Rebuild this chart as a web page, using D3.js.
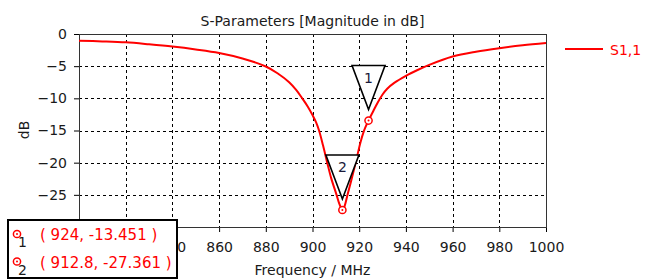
<!DOCTYPE html>
<html>
<head>
<meta charset="utf-8">
<script src="https://cdn.jsdelivr.net/npm/d3@7"></script>
<style>
  html, body { margin: 0; padding: 0; background: #fff; }
  text { font-family: "DejaVu Sans", Verdana, sans-serif; }
</style>
</head>
<body>
<div id="chart"></div>
<script>
// ---------------------------------- DATA ---------------------------------- //

let freq_mhz = [800, 810, 820, 830, 840, 850, 860, 870, 880, 885, 890, 893, 895.6, 898, 900, 901.5, 902.8,
  904.5, 906.3, 908, 910.3, 911.5, 912.8, 913.5, 915, 917, 919, 920.5, 922, 923, 924, 926, 928, 930, 932,
  935, 940, 945, 950, 960, 970, 980, 990, 1000];
let s11_db = [-1.05, -1.15, -1.3, -1.6, -1.95, -2.4, -2.95, -3.8, -5.05, -6.1, -7.5, -8.7, -10, -11.3, -12.6,
  -13.7, -15, -17.3, -20, -22.4, -25, -26.4, -27.36, -27.0, -25.0, -22.2, -19.2, -16.9, -15.1, -14.2,
  -13.451, -12.0, -10.6, -9.4, -8.5, -7.6, -6.5, -5.6, -4.8, -3.5, -2.75, -2.2, -1.75, -1.4];

let marker_ids = ['1', '2'];
let marker_freq = [924, 912.8];
let marker_db = [-13.451, -27.361];

let x_ticks = [800, 820, 840, 860, 880, 900, 920, 940, 960, 980, 1000];
let y_ticks = [-25, -20, -15, -10, -5, 0];

// ---------------------------------- SETTINGS ---------------------------------- //

let img_width = 656;
let img_height = 280;
let plot_left = 79;
let plot_right = 546;
let plot_top = 34;
let plot_bottom = 227;
let red_color = '#ff0000';
let text_color = '#1a1a1a';
let box_right = 177;

// ---------------------------------- CORE IMAGE ---------------------------------- //

let svg = d3.select('#chart')
  .append('svg')
  .attr('width', img_width)
  .attr('height', img_height);

let x = d3.scaleLinear().domain([800, 1000]).range([plot_left, plot_right]);
let y = d3.scaleLinear().domain([-30, 0]).range([plot_bottom, plot_top]);

// grid
let g_grid = svg.append('g')
  .attr('stroke', '#000')
  .attr('stroke-width', 1)
  .attr('stroke-dasharray', '3,3');
g_grid.selectAll('line.v')
  .data(x_ticks.slice(1, -1))
  .enter()
  .append('line')
  .attr('x1', d => Math.round(x(d)) + 0.5)
  .attr('x2', d => Math.round(x(d)) + 0.5)
  .attr('y1', plot_top)
  .attr('y2', plot_bottom);
g_grid.selectAll('line.h')
  .data(y_ticks.slice(0, -1))
  .enter()
  .append('line')
  .attr('x1', plot_left)
  .attr('x2', plot_right)
  .attr('y1', d => Math.round(y(d)) + 0.5)
  .attr('y2', d => Math.round(y(d)) + 0.5);

// axes (labels that sit fully under the marker table are left blank)
let x_fmt = d => (x(d) + 14 < box_right ? '' : d3.format('d')(d));
let x_axis = svg.append('g')
  .attr('transform', `translate(0,${plot_bottom})`)
  .call(d3.axisBottom(x).tickValues(x_ticks).tickFormat(x_fmt).tickSize(5).tickPadding(10).tickSizeOuter(0));
let y_axis = svg.append('g')
  .attr('transform', `translate(${plot_left},0)`)
  .call(d3.axisLeft(y).tickValues(y_ticks).tickFormat(d3.format('d')).tickSize(5).tickPadding(7).tickSizeOuter(0));
[x_axis, y_axis].forEach(function(a) {
  a.select('.domain').remove();
  a.selectAll('text').attr('fill', text_color).style('font-size', '14px').style('font-family', '"DejaVu Sans", sans-serif');
  a.selectAll('line').attr('stroke', '#000');
});

// frame
svg.append('rect')
  .attr('x', plot_left + 0.5)
  .attr('y', plot_top + 0.5)
  .attr('width', plot_right - plot_left)
  .attr('height', plot_bottom - plot_top)
  .attr('fill', 'none')
  .attr('stroke', '#333')
  .attr('stroke-width', 1);

// curve
let line = d3.line()
  .x((d, i) => x(freq_mhz[i]))
  .y(d => y(d))
  .curve(d3.curveCatmullRom.alpha(0.5));
svg.append('path')
  .datum(s11_db)
  .attr('d', line)
  .attr('fill', 'none')
  .attr('stroke', red_color)
  .attr('stroke-width', 2);

// ---------------------------------- MARKERS ---------------------------------- //

let tri_w = 33;
let tri_h = 44;
let tri_gap = 11;

let g_markers = svg.append('g');
marker_ids.forEach(function(id, i) {
  let px = x(marker_freq[i]);
  let py = y(marker_db[i]);
  let apex = py - tri_gap;
  g_markers.append('path')
    .attr('d', `M${px - tri_w / 2},${apex - tri_h}L${px + tri_w / 2},${apex - tri_h}L${px},${apex}Z`)
    .attr('fill', '#fff')
    .attr('stroke', '#000')
    .attr('stroke-width', 1.6);
  g_markers.append('text')
    .attr('x', px)
    .attr('y', apex - tri_h + 17)
    .attr('text-anchor', 'middle')
    .attr('fill', '#1a1a3a')
    .style('font-size', '14px')
    .text(id);
  g_markers.append('circle')
    .attr('cx', px).attr('cy', py).attr('r', 3.6)
    .attr('fill', '#fff').attr('stroke', red_color).attr('stroke-width', 1.5);
  g_markers.append('circle')
    .attr('cx', px).attr('cy', py).attr('r', 1)
    .attr('fill', red_color);
});

// ---------------------------------- TEXT ---------------------------------- //

svg.append('text')
  .attr('x', (plot_left + plot_right) / 2)
  .attr('y', 26)
  .attr('text-anchor', 'middle')
  .attr('fill', text_color)
  .style('font-size', '14px')
  .text('S-Parameters [Magnitude in dB]');

svg.append('text')
  .attr('transform', 'translate(29,130) rotate(-90)')
  .attr('text-anchor', 'middle')
  .attr('fill', text_color)
  .style('font-size', '14px')
  .text('dB');

svg.append('text')
  .attr('x', (plot_left + plot_right) / 2)
  .attr('y', 275)
  .attr('text-anchor', 'middle')
  .attr('fill', text_color)
  .style('font-size', '14px')
  .text('Frequency / MHz');

// legend
svg.append('line')
  .attr('x1', 565).attr('x2', 603)
  .attr('y1', 49).attr('y2', 49)
  .attr('stroke', red_color)
  .attr('stroke-width', 2);
svg.append('text')
  .attr('x', 610)
  .attr('y', 55)
  .attr('fill', red_color)
  .style('font-size', '14px')
  .text('S1,1');

// ---------------------------------- MARKER TABLE ---------------------------------- //

let box = svg.append('g');
box.append('rect')
  .attr('x', 8)
  .attr('y', 220)
  .attr('width', box_right - 8)
  .attr('height', 58)
  .attr('fill', '#fff')
  .attr('stroke', '#000')
  .attr('stroke-width', 2);

marker_ids.forEach(function(id, i) {
  let ry = 234 + i * 27.5;
  box.append('circle')
    .attr('cx', 17).attr('cy', ry).attr('r', 3.6)
    .attr('fill', '#fff').attr('stroke', red_color).attr('stroke-width', 1.5);
  box.append('circle')
    .attr('cx', 17).attr('cy', ry).attr('r', 1)
    .attr('fill', red_color);
  box.append('text')
    .attr('x', 18)
    .attr('y', ry + 13)
    .attr('fill', text_color)
    .style('font-size', '14px')
    .text(id);
  box.append('text')
    .attr('x', 40)
    .attr('y', ry + 6)
    .attr('fill', red_color)
    .style('font-size', '15px')
    .text(`( ${marker_freq[i]}, ${marker_db[i]} )`);
});
</script>
</body>
</html>
